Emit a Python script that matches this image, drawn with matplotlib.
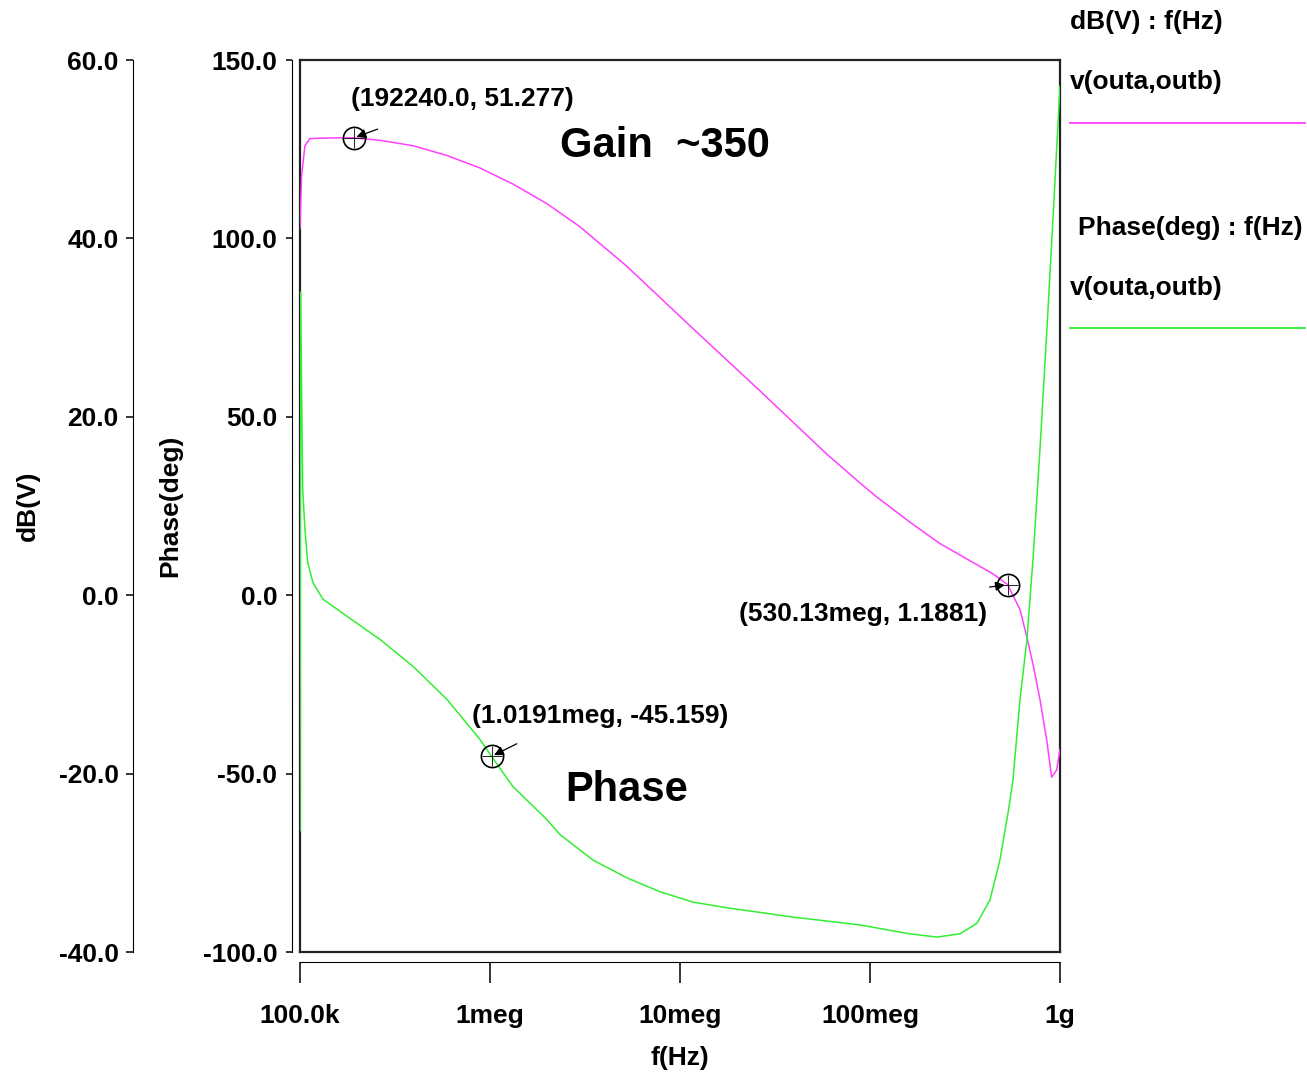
import numpy as np
import matplotlib.pyplot as plt
from matplotlib.lines import Line2D

plt.rcParams['font.family'] = ['Liberation Sans', 'DejaVu Sans']
plt.rcParams['font.weight'] = 'bold'

# gain curve, dB(V) vs f(Hz)
gain_freq = [1.0e5, 1.02e5, 1.062e5, 1.129e5, 1.5e5, 1.9224e5, 2.64e5, 3.93e5, 5.94e5,
             8.86e5, 1.32e6, 1.995e6, 2.98e6, 5.24e6, 1.17e7, 2.64e7, 5.94e7,
             8.85e7, 1.088e8, 1.62e8, 2.334e8, 2.98e8, 4.44e8, 5.3013e8, 6.16e8, 6.68e8,
             7.24e8, 7.85e8, 8.51e8, 9.04e8, 9.6e8, 1.0e9]
gain_db = [41.1, 47.0, 50.4, 51.2, 51.27, 51.277, 51.0, 50.4, 49.3,
           47.9, 46.1, 43.9, 41.3, 36.9, 29.9, 22.9, 15.8,
           12.6, 11.0, 8.2, 5.8, 4.5, 2.4, 1.1881, -1.6, -4.6,
           -7.9, -11.7, -16.2, -20.4, -19.6, -17.3]

# phase curve, Phase(deg) vs f(Hz)
phase_freq = [1.0e5, 1.008e5, 1.033e5, 1.062e5, 1.098e5, 1.171e5, 1.321e5, 1.623e5, 1.767e5,
              2.64e5, 3.93e5, 5.94e5, 8.86e5, 1.0191e6, 1.32e6, 1.995e6, 2.34e6, 3.48e6,
              5.26e6, 7.85e6, 1.17e7, 1.77e7, 3.93e7, 8.85e7, 1.62e8, 2.25e8, 2.98e8,
              3.66e8, 4.28e8, 4.83e8, 5.33e8, 5.66e8, 6.16e8, 6.70e8, 7.21e8, 7.85e8,
              8.54e8, 9.19e8, 1.0e9]
phase_deg = [-66.0, 85.0, 30.0, 18.6, 9.3, 3.5, -1.1, -4.5, -5.9,
             -12.4, -19.9, -29.2, -40.4, -45.159, -53.6, -62.9, -67.1, -74.2,
             -79.2, -83.1, -86.0, -87.6, -90.2, -92.4, -94.9, -95.8, -94.9,
             -91.9, -85.4, -74.2, -61.0, -51.7, -29.2, -12.4, 10.1, 41.0,
             74.7, 105.6, 142.7]

# cursor markers
gain_mark_freq = [192240.0, 530.13e6]
gain_mark_db = [51.277, 1.1881]
gain_mark_text = ['(192240.0, 51.277)', '(530.13meg, 1.1881)']
phase_mark_freq = [1.0191e6]
phase_mark_deg = [-45.159]
phase_mark_text = ['(1.0191meg, -45.159)']

x_ticks = [1e5, 1e6, 1e7, 1e8, 1e9]
x_labels = ['100.0k', '1meg', '10meg', '100meg', '1g']
db_ticks = [-40, -20, 0, 20, 40, 60]
phase_ticks = [-100, -50, 0, 50, 100, 150]

mag = '#ff40ff'
grn = '#33ee33'
fs = 19

fig = plt.figure(figsize=(13.07, 10.76), dpi=100)
rect = [0.2295, 0.1152, 0.5815, 0.829]

frame = fig.add_axes(rect, label='frame')
frame.set_xticks([])
frame.set_yticks([])
for s in frame.spines.values():
    s.set_linewidth(1.6)
    s.set_color('#222222')

ax = fig.add_axes(rect, label='gain')
ax.patch.set_visible(False)
ax.plot(gain_freq, gain_db, color=mag, lw=1.1)
ax.set_xscale('log')
ax.set_xlim(1e5, 1e9)
ax.set_ylim(-40, 60)
ax.spines['top'].set_visible(False)
ax.spines['right'].set_visible(False)
ax.spines['left'].set_position(('outward', 120))
ax.spines['bottom'].set_position(('outward', 7.2))
ax.set_xticks(x_ticks)
ax.set_xticklabels(x_labels)
ax.xaxis.set_minor_locator(plt.NullLocator())
ax.tick_params(axis='x', length=15, width=1.1, pad=15, labelsize=fs)
ax.set_yticks(db_ticks)
ax.set_yticklabels(['%.1f' % v for v in db_ticks])
ax.tick_params(axis='y', length=5, width=1.1, pad=5.5, labelsize=fs)
ax.set_ylabel('dB(V)', fontsize=fs, fontweight='bold', va='center')
ax.yaxis.set_label_coords(-0.358, 0.5)
ax.set_xlabel('f(Hz)', fontsize=fs, fontweight='bold', va='center')
ax.xaxis.set_label_coords(0.5, -0.119)

ax2 = ax.twinx()
ax2.plot(phase_freq, phase_deg, color=grn, lw=1.1)
ax2.set_ylim(-100, 150)
ax2.yaxis.tick_left()
ax2.yaxis.set_label_position('left')
for k in ['top', 'right', 'bottom']:
    ax2.spines[k].set_visible(False)
ax2.spines['left'].set_position(('outward', 5.8))
ax2.set_yticks(phase_ticks)
ax2.set_yticklabels(['%.1f' % v for v in phase_ticks])
ax2.tick_params(axis='y', length=4.5, width=1.1, pad=6, labelsize=fs)
ax2.set_ylabel('Phase(deg)', fontsize=fs, fontweight='bold', va='center')
ax2.yaxis.set_label_coords(-0.171, 0.5)

# cursor markers and their labels
text_offsets = [(78, 28), (-104, -21)]
arrow_offsets = [(19, 7), (-15, -2)]
for f, v, t, to, ao in zip(gain_mark_freq, gain_mark_db, gain_mark_text, text_offsets, arrow_offsets):
    ax.plot(f, v, 'o', mfc='none', mec='black', ms=16, mew=1.2)
    ax.plot(f, v, '+', color='black', ms=14, mew=0.6)
    ax.annotate('', xy=(f, v), xytext=ao, textcoords='offset points',
                arrowprops=dict(arrowstyle='-|>', color='black', lw=0.9, mutation_scale=14))
    ax.annotate(t, xy=(f, v), xytext=to, textcoords='offset points',
                ha='center', va='center', fontsize=fs, fontweight='bold')

for f, v, t in zip(phase_mark_freq, phase_mark_deg, phase_mark_text):
    ax2.plot(f, v, 'o', mfc='none', mec='black', ms=16, mew=1.2)
    ax2.plot(f, v, '+', color='black', ms=14, mew=0.6)
    ax2.annotate('', xy=(f, v), xytext=(20, 10), textcoords='offset points',
                 arrowprops=dict(arrowstyle='-|>', color='black', lw=0.9, mutation_scale=14))
    ax2.annotate(t, xy=(f, v), xytext=(78, 29), textcoords='offset points',
                 ha='center', va='center', fontsize=fs, fontweight='bold')

ax2.text(0.342, 0.9036, 'Gain  ~350', transform=ax2.transAxes, fontsize=30,
         fontweight='bold', ha='left', va='center')
ax2.text(0.349, 0.1816, 'Phase', transform=ax2.transAxes, fontsize=30,
         fontweight='bold', ha='left', va='center')

# legend block on the right
fig.text(0.8187, 0.9796, 'dB(V) : f(Hz)', fontsize=fs, fontweight='bold', va='center')
fig.text(0.8187, 0.9238, 'v(outa,outb)', fontsize=fs, fontweight='bold', va='center')
fig.add_artist(Line2D([0.8187, 0.9985], [0.8857, 0.8857], color=mag, lw=1.3))
fig.text(0.8248, 0.7881, 'Phase(deg) : f(Hz)', fontsize=fs, fontweight='bold', va='center')
fig.text(0.8187, 0.7323, 'v(outa,outb)', fontsize=fs, fontweight='bold', va='center')
fig.add_artist(Line2D([0.8187, 0.9985], [0.6952, 0.6952], color=grn, lw=1.3))

fig.savefig('out.png', dpi=100)
